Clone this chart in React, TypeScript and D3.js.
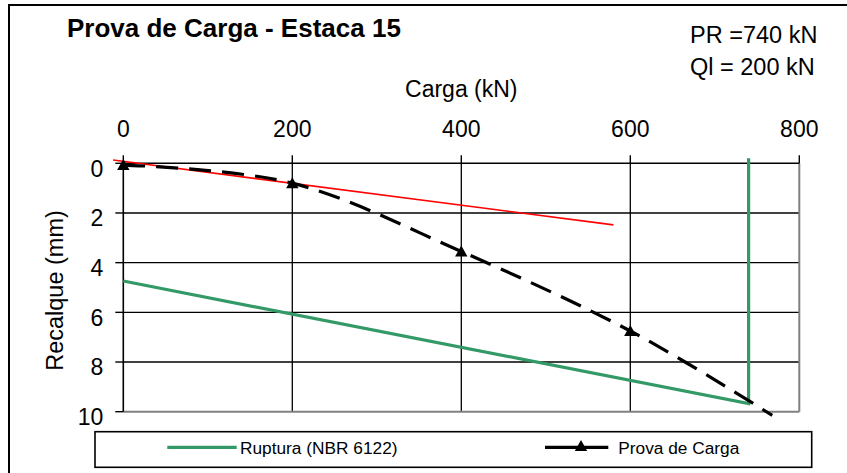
import React from "react";
import * as d3 from "d3";

const xTicks = [0, 200, 400, 600, 800];
const yTicks = [0, 2, 4, 6, 8, 10];
const gridX = [200, 400, 600];
const gridY = [2, 4, 6, 8];

// Prova de Carga (load test) – load kN, settlement mm
const provaCarga = [0, 200, 400, 600, 768];
const provaRecalque = [0.07, 0.8, 3.55, 6.75, 10.15];

// Ruptura (NBR 6122)
const rupturaCarga = [0, 740, 740];
const rupturaRecalque = [4.74, 9.67, -0.2];

// Elastic line (red)
const elasticaCarga = [-12, 580];
const elasticaRecalque = [-0.13, 2.48];

const FONT = "'Liberation Sans', Arial, sans-serif";

export default function App() {
  const W = 847;
  const H = 473;
  const x = d3.scaleLinear().domain([0, 800]).range([123.3, 799.3]);
  const y = d3.scaleLinear().domain([0, 10]).range([163.3, 411.7]);

  const prova = provaCarga.map((c, i) => [c, provaRecalque[i]] as [number, number]);
  const ruptura = rupturaCarga.map((c, i) => [c, rupturaRecalque[i]] as [number, number]);
  const elastica = elasticaCarga.map((c, i) => [c, elasticaRecalque[i]] as [number, number]);

  const straight = d3
    .line<[number, number]>()
    .x((d) => x(d[0]))
    .y((d) => y(d[1]));
  const smooth = d3
    .line<[number, number]>()
    .x((d) => x(d[0]))
    .y((d) => y(d[1]))
    .curve(d3.curveCardinal.tension(0));

  const tri = (cx: number, cy: number) =>
    `M${cx},${cy - 6}L${cx + 6.2},${cy + 5}L${cx - 6.2},${cy + 5}Z`;

  const x0 = x(0);
  const x1 = x(800);
  const y0 = y(0);
  const y1 = y(10);

  return (
    <svg
      width={W}
      height={H}
      style={{ position: "absolute", left: 0, top: 0, background: "#fff" }}
      fontFamily={FONT}
    >
      <rect x={0} y={0} width={W} height={H} fill="#fff" />
      {/* outer chart border (cut off right/bottom) */}
      <rect x={9} y={5} width={W + 20} height={H + 20} fill="none" stroke="#000" strokeWidth={2} />

      {/* title */}
      <text x={67} y={36.7} fontSize={26} fontWeight="bold" fill="#000">
        Prova de Carga - Estaca 15
      </text>
      <text x={690} y={43.3} fontSize={23.5} fill="#000">
        PR =740 kN
      </text>
      <text x={690} y={75} fontSize={23.5} fill="#000">
        Ql = 200 kN
      </text>

      {/* x axis title */}
      <text x={(x0 + x1) / 2} y={96.5} fontSize={23} textAnchor="middle" fill="#000">
        Carga (kN)
      </text>
      {/* y axis title */}
      <text
        transform={`translate(63.3,${(y0 + y1) / 2 + 3}) rotate(-90)`}
        fontSize={23.5}
        textAnchor="middle"
        fill="#000"
      >
        Recalque (mm)
      </text>

      {/* gridlines */}
      {gridX.map((v) => (
        <line key={"gx" + v} x1={x(v)} x2={x(v)} y1={y0} y2={y1} stroke="#000" strokeWidth={1.3} />
      ))}
      {gridY.map((v) => (
        <line key={"gy" + v} x1={x0} x2={x1} y1={y(v)} y2={y(v)} stroke="#000" strokeWidth={1.3} />
      ))}

      {/* plot area border right & bottom (grey) */}
      <line x1={x1} x2={x1} y1={y0} y2={y1} stroke="#808080" strokeWidth={2} />
      <line x1={x0} x2={x1} y1={y1} y2={y1} stroke="#808080" strokeWidth={2} />

      {/* axes */}
      <line x1={x0} x2={x1} y1={y0} y2={y0} stroke="#000" strokeWidth={1.6} />
      <line x1={x0} x2={x0} y1={y0} y2={y1} stroke="#000" strokeWidth={1.6} />
      {xTicks.map((v) => (
        <g key={"xt" + v}>
          <line x1={x(v)} x2={x(v)} y1={y0 - 8} y2={y0} stroke="#000" strokeWidth={1.4} />
          <text x={x(v)} y={137.3} fontSize={23} textAnchor="middle" fill="#000">
            {v}
          </text>
        </g>
      ))}
      {yTicks.map((v) => (
        <g key={"yt" + v}>
          <line x1={x0 - 8} x2={x0} y1={y(v)} y2={y(v)} stroke="#000" strokeWidth={1.4} />
          <text x={103.3} y={y(v) + 13.3} fontSize={23} textAnchor="end" fill="#000">
            {v}
          </text>
        </g>
      ))}

      {/* series */}
      <path d={straight(ruptura) || ""} fill="none" stroke="#339966" strokeWidth={3.2} />
      <path d={straight(elastica) || ""} fill="none" stroke="#ff0000" strokeWidth={1.6} />
      <path
        d={smooth(prova) || ""}
        fill="none"
        stroke="#000"
        strokeWidth={3.2}
        strokeDasharray="22 11"
      />
      {prova
        .filter((d) => d[1] <= 10)
        .map((d, i) => (
          <path key={"m" + i} d={tri(x(d[0]), y(d[1]))} fill="#000" />
        ))}

      {/* legend */}
      <rect x={95} y={431.7} width={716.7} height={35.6} fill="#fff" stroke="#000" strokeWidth={1.6} />
      <line x1={167.3} x2={236.7} y1={447.3} y2={447.3} stroke="#339966" strokeWidth={3.2} />
      <text x={240} y={454.3} fontSize={17.3} fill="#000">
        Ruptura (NBR 6122)
      </text>
      <line x1={545} x2={608.3} y1={447.3} y2={447.3} stroke="#000" strokeWidth={3.2} />
      <path d={tri(581, 446)} fill="#000" />
      <text x={618.3} y={454.3} fontSize={17.3} fill="#000">
        Prova de Carga
      </text>
    </svg>
  );
}
